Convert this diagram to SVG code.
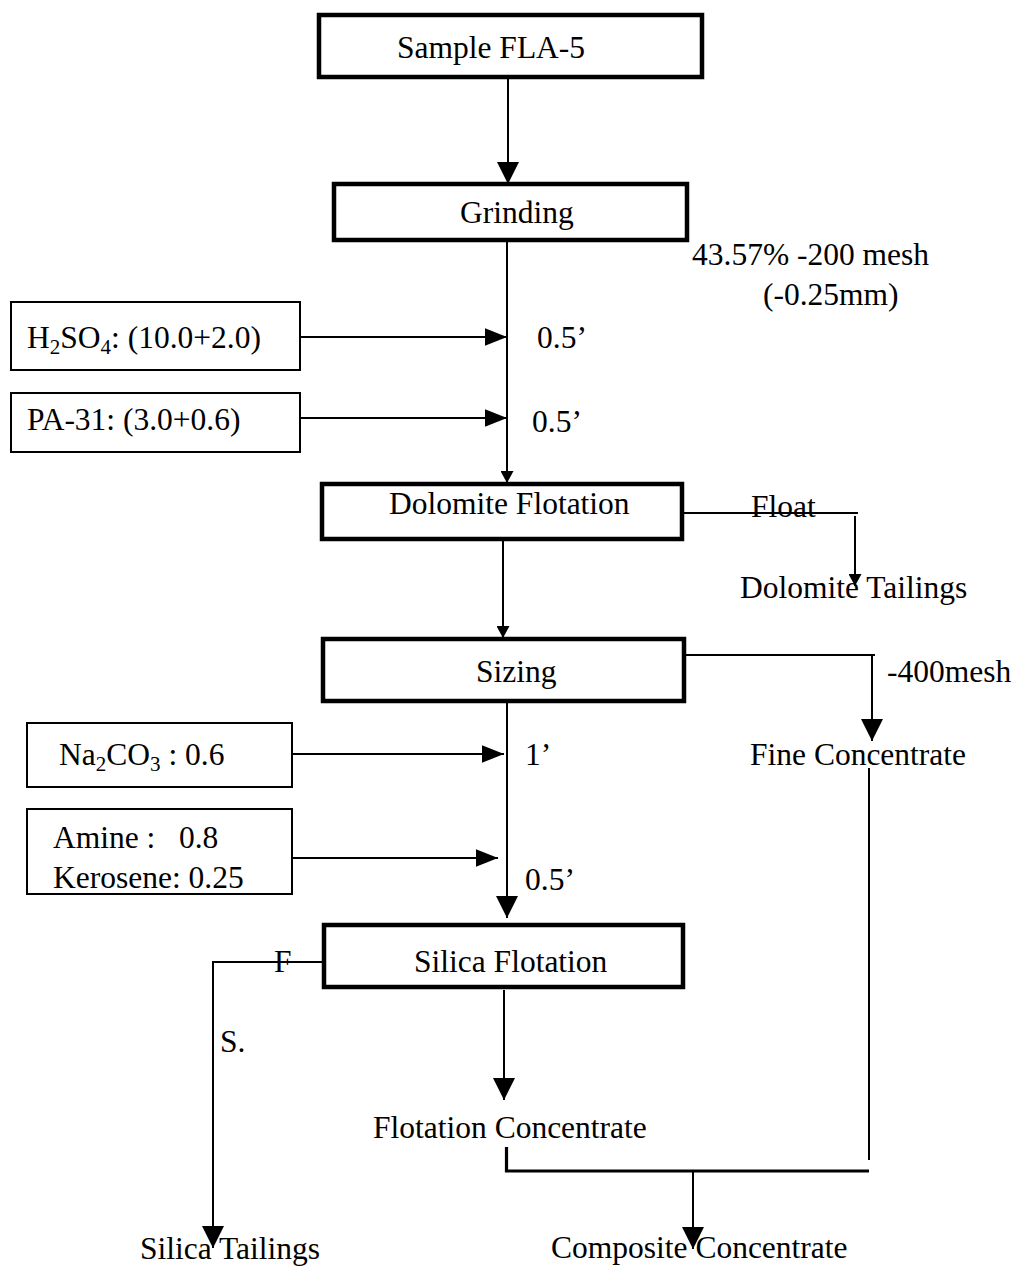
<svg xmlns="http://www.w3.org/2000/svg" width="1015" height="1272" viewBox="0 0 1015 1272">
  <style>
    text { font-family: "Liberation Serif", "Times New Roman", serif; font-size: 31.5px; fill: #000; }
    .sub { font-size: 21px; }
    .box { fill: #fff; stroke: #000; stroke-width: 4.5; }
    .reagent { fill: #fff; stroke: #000; stroke-width: 2; }
    .ln { fill: none; stroke: #000; stroke-width: 2; }
    .heavy { fill: none; stroke: #000; stroke-width: 3.2; }
  </style>
  <defs>
    <marker id="big" markerUnits="userSpaceOnUse" markerWidth="22" markerHeight="22" viewBox="0 0 20 20" refX="20" refY="10" orient="auto">
      <path d="M0,0 L20,10 L0,20 Z" fill="#000"/>
    </marker>
    <marker id="mid" markerUnits="userSpaceOnUse" markerWidth="22" markerHeight="18" viewBox="0 0 20 16" refX="20" refY="8" orient="auto">
      <path d="M0,0 L20,8 L0,16 Z" fill="#000"/>
    </marker>
    <marker id="small" markerUnits="userSpaceOnUse" markerWidth="12" markerHeight="13" viewBox="0 0 11 12" refX="11" refY="6" orient="auto">
      <path d="M0,0 L11,6 L0,12 Z" fill="#000"/>
    </marker>
  </defs>

  <!-- flow lines -->
  <g id="connectors">
    <line class="ln" x1="508" y1="79" x2="508" y2="184" marker-end="url(#big)"/>
    <line class="ln" x1="507" y1="242" x2="507" y2="483" marker-end="url(#small)"/>
    <line class="ln" x1="300" y1="337" x2="507" y2="337" marker-end="url(#mid)"/>
    <line class="ln" x1="300" y1="418" x2="507" y2="418" marker-end="url(#mid)"/>
    <line class="ln" x1="683" y1="513" x2="858" y2="513"/>
    <line class="ln" x1="855" y1="516" x2="855" y2="586" marker-end="url(#small)"/>
    <line class="ln" x1="503" y1="541" x2="503" y2="638" marker-end="url(#small)"/>
    <line class="ln" x1="685" y1="655" x2="875" y2="655"/>
    <line class="ln" x1="872" y1="655" x2="872" y2="741" marker-end="url(#big)"/>
    <line class="ln" x1="507" y1="702" x2="507" y2="918" marker-end="url(#big)"/>
    <line class="ln" x1="292" y1="754" x2="504" y2="754" marker-end="url(#mid)"/>
    <line class="ln" x1="292" y1="858" x2="498" y2="858" marker-end="url(#mid)"/>
    <line class="ln" x1="327" y1="962" x2="212" y2="962"/>
    <line class="ln" x1="213" y1="962" x2="213" y2="1248" marker-end="url(#big)"/>
    <line class="ln" x1="504" y1="990" x2="504" y2="1100" marker-end="url(#big)"/>
    <line class="ln" x1="869" y1="768" x2="869" y2="1160"/>
    <polyline class="heavy" points="506.5,1147 506.5,1171 869,1171"/>
    <line class="ln" x1="693" y1="1172" x2="693" y2="1249" marker-end="url(#big)"/>
  </g>

  <g id="sample">
    <rect class="box" x="319" y="15" width="383" height="62"/>
    <text x="397" y="58">Sample FLA-5</text>
  </g>

  <g id="grinding">
    <rect class="box" x="334" y="184" width="353" height="56"/>
    <text x="460" y="223">Grinding</text>
  </g>

  <g id="grind-size">
    <text x="692" y="265">43.57% -200 mesh</text>
    <text x="763" y="305">(-0.25mm)</text>
  </g>

  <g id="h2so4">
    <rect class="reagent" x="11" y="302" width="289" height="68"/>
    <text x="27" y="348">H<tspan class="sub" dy="6">2</tspan><tspan dy="-6">SO</tspan><tspan class="sub" dy="6">4</tspan><tspan dy="-6">: (10.0+2.0)</tspan></text>
  </g>
  <text x="537" y="348">0.5’</text>

  <g id="pa31">
    <rect class="reagent" x="11" y="393" width="289" height="59"/>
    <text x="27" y="430">PA-31: (3.0+0.6)</text>
  </g>
  <text x="532" y="432">0.5’</text>

  <g id="dolomite-flotation">
    <rect class="box" x="322" y="484" width="360" height="55"/>
    <text x="389" y="514">Dolomite Flotation</text>
  </g>
  <text x="751" y="517">Float</text>

  <g id="dolomite-tailings">
    <text x="740" y="598">Dolomite Tailings</text>
  </g>

  <g id="sizing">
    <rect class="box" x="323" y="639" width="361" height="62"/>
    <text x="476" y="682">Sizing</text>
  </g>
  <text x="887" y="682">-400mesh</text>

  <g id="fine-concentrate">
    <text x="750" y="765">Fine Concentrate</text>
  </g>

  <g id="na2co3">
    <rect class="reagent" x="27" y="723" width="265" height="64"/>
    <text x="59" y="765">Na<tspan class="sub" dy="6">2</tspan><tspan dy="-6">CO</tspan><tspan class="sub" dy="6">3</tspan><tspan dy="-6"> : 0.6</tspan></text>
  </g>
  <text x="525" y="765">1’</text>

  <g id="amine-kerosene">
    <rect class="reagent" x="27" y="809" width="265" height="85"/>
    <text x="53" y="848" xml:space="preserve">Amine :   0.8</text>
    <text x="53" y="888">Kerosene: 0.25</text>
  </g>
  <text x="525" y="890">0.5’</text>

  <g id="silica-flotation">
    <rect class="box" x="324" y="925" width="359" height="62"/>
    <text x="414" y="972">Silica Flotation</text>
  </g>
  <text x="274" y="972">F</text>
  <text x="220" y="1052">S.</text>

  <g id="flotation-concentrate">
    <text x="373" y="1138">Flotation Concentrate</text>
  </g>

  <g id="silica-tailings">
    <text x="140" y="1259">Silica Tailings</text>
  </g>

  <g id="composite-concentrate">
    <text x="551" y="1258">Composite Concentrate</text>
  </g>
</svg>
